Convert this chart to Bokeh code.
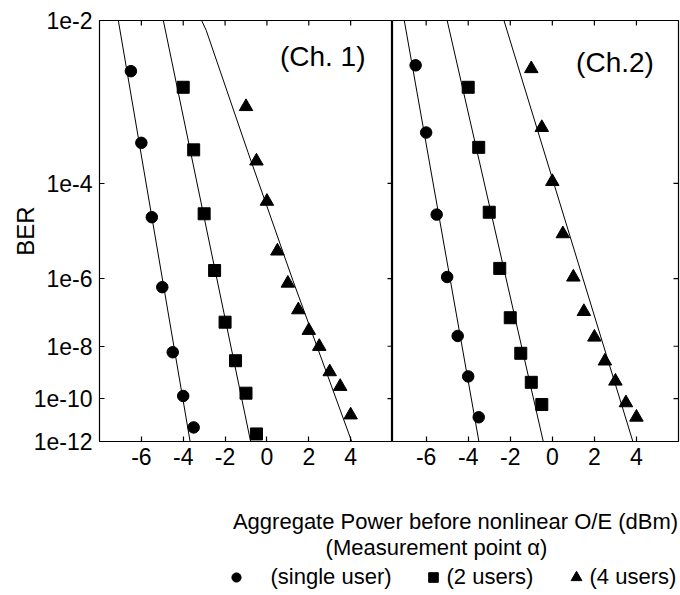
import numpy as np
from bokeh.plotting import figure
from bokeh.models import Range1d, FixedTicker, Label
from bokeh.layouts import column, row
from bokeh.embed import file_html
from bokeh.resources import INLINE
from bokeh.core.properties import value

FONT = "Liberation Sans"

# Aggregate optical power before the nonlinear O/E (dBm)
power_1user = [-6.5, -6.0, -5.5, -5.0, -4.5, -4.0, -3.5]
power_2users = [-4.0, -3.5, -3.0, -2.5, -2.0, -1.5, -1.0, -0.5]
power_4users = [-1.0, -0.5, 0.0, 0.5, 1.0, 1.5, 2.0, 2.5, 3.0, 3.5, 4.0]

# Measured BER, channel 1
ch1_ber_1user = [3.3e-3, 4.3e-4, 2.4e-5, 6.0e-7, 6.2e-9, 1.3e-10, 5.0e-12]
ch1_ber_2users = [2.2e-3, 3.4e-4, 2.8e-5, 1.6e-6, 6.0e-8, 3.1e-9, 1.7e-10, 2.4e-12]
ch1_ber_4users = [1.3e-3, 2.3e-4, 4.8e-5, 4.6e-6, 7.6e-7, 1.4e-7, 3.3e-8,
                  9.8e-9, 1.2e-9, 3.2e-10, 1.9e-11]

# Measured BER, channel 2
ch2_ber_1user = [3.8e-3, 6.0e-4, 2.7e-5, 1.1e-6, 2.2e-8, 8.0e-10, 1.5e-11]
ch2_ber_2users = [2.2e-3, 3.7e-4, 3.0e-5, 1.8e-6, 8.2e-8, 5.7e-9, 4.7e-10, 5.6e-11]
ch2_ber_4users = [3.5e-3, 7.0e-4, 1.07e-4, 1.1e-5, 1.09e-6, 1.25e-7, 2.0e-8,
                  3.0e-9, 5.2e-10, 6.6e-11, 1.5e-11]

# Fitted curves: (power, BER)
ch1_fit_1user_x = [-7.1, -3.67]
ch1_fit_1user_ber = [1e-2, 1e-12]
ch1_fit_2users_x = [-4.95, -0.78]
ch1_fit_2users_ber = [1e-2, 1e-12]
ch1_fit_4users_x = [-3.12, -2.9, -0.9, 1.24, 4.05]
ch1_fit_4users_ber = [1e-2, 8.2e-3, 3.1e-4, 9.0e-7, 1e-12]

ch2_fit_1user_x = [-7.04, -3.49]
ch2_fit_1user_ber = [1e-2, 1e-12]
ch2_fit_2users_x = [-5.0, -0.43]
ch2_fit_2users_ber = [1e-2, 1e-12]
ch2_fit_4users_x = [-2.3, 3.83]
ch2_fit_4users_ber = [1e-2, 1e-12]

# Axis ticks and labels
x_ticks = [-6, -4, -2, 0, 2, 4]
x_tick_labels = ["-6", "-4", "-2", "0", "2", "4"]
ber_exponents = [2, 4, 6, 8, 10, 12]
ber_tick_labels = ["1e-2", "1e-4", "1e-6", "1e-8", "1e-10", "1e-12"]

channel_names = ["(Ch. 1)", "(Ch.2)"]
x_title = "Aggregate Power before nonlinear O/E (dBm)"
x_subtitle = "(Measurement point \u03b1)"
legend_labels = ["(single user)", "(2 users)", "(4 users)"]


def ber_scale(ber):
    """BER paper scale: log10(-log10(BER))."""
    return np.log10(-np.log10(np.asarray(ber, dtype=float)))


y_ticks = [float(v) for v in np.log10(ber_exponents)]
Y_BOTTOM = float(np.log10(12))
Y_TOP = float(np.log10(2))


def style_axis(ax, ticks, labels):
    ax.ticker = FixedTicker(ticks=ticks)
    ax.axis_line_color = None
    ax.major_tick_line_color = "black"
    ax.major_tick_line_width = 1.2
    ax.major_tick_in = 5
    ax.major_tick_out = 0
    ax.minor_tick_line_color = None
    ax.major_label_overrides = {t: l for t, l in zip(ticks, labels)}
    ax.major_label_text_font = FONT
    ax.major_label_text_font_size = "23px"
    ax.major_label_text_color = "black"


def make_panel(x_range, width, border_left, border_right, is_left):
    p = figure(width=width, height=480, x_range=Range1d(*x_range),
               y_range=Range1d(Y_BOTTOM, Y_TOP),
               output_backend="svg", toolbar_location=None,
               y_axis_location="left" if is_left else None,
               min_border_left=border_left, min_border_right=border_right,
               min_border_top=20, min_border_bottom=39)
    p.grid.visible = False
    p.outline_line_color = "black"
    p.outline_line_width = 1.2
    p.background_fill_color = "white"
    p.border_fill_color = "white"

    style_axis(p.xaxis[0], x_ticks, x_tick_labels)
    p.xaxis[0].major_label_standoff = 6

    if is_left:
        ya = p.yaxis[0]
        style_axis(ya, y_ticks, ber_tick_labels)
        ya.major_label_standoff = 7
        ya.axis_label = "BER"
        ya.axis_label_text_font = FONT
        ya.axis_label_text_font_size = "24px"
        ya.axis_label_text_font_style = "normal"
        ya.axis_label_text_color = "black"
        ya.axis_label_standoff = -8

    # inward tick marks along the top and right edges of the frame
    x_end = x_range[1]
    p.scatter(x_ticks, [Y_TOP] * len(x_ticks), marker="dash", angle=np.pi / 2,
              size=10, line_color="black", line_width=1.2)
    p.scatter([x_end] * len(y_ticks), y_ticks, marker="dash",
              size=10, line_color="black", line_width=1.2)
    return p


left = make_panel((-8.0, 6.0), 392, 99, 0, True)
right = make_panel((-7.6, 6.0), 288, 0, 2, False)

panels = [
    (left, [(power_1user, ch1_ber_1user), (power_2users, ch1_ber_2users), (power_4users, ch1_ber_4users)],
     [(ch1_fit_1user_x, ch1_fit_1user_ber), (ch1_fit_2users_x, ch1_fit_2users_ber),
      (ch1_fit_4users_x, ch1_fit_4users_ber)]),
    (right, [(power_1user, ch2_ber_1user), (power_2users, ch2_ber_2users), (power_4users, ch2_ber_4users)],
     [(ch2_fit_1user_x, ch2_fit_1user_ber), (ch2_fit_2users_x, ch2_fit_2users_ber),
      (ch2_fit_4users_x, ch2_fit_4users_ber)]),
]

markers = [("circle", 11.5), ("square", 12), ("triangle", 13.5)]

for p, series, fits in panels:
    for fx, fb in fits:
        p.line(fx, ber_scale(fb), line_color="black", line_width=1)
    for (px, pb), (mk, sz) in zip(series, markers):
        p.scatter(px, ber_scale(pb), marker=mk, size=sz, fill_color="black", line_color="black")

# Channel tags inside each panel
left.add_layout(Label(x=0.62, y=float(ber_scale(4.7e-3)), text=channel_names[0],
                      text_font=FONT, text_font_size="28px", text_baseline="middle",
                      text_align="left", text_color="black"))
right.add_layout(Label(x=1.13, y=float(ber_scale(4.1e-3)), text=channel_names[1],
                       text_font=FONT, text_font_size="28px", text_baseline="middle",
                       text_align="left", text_color="black"))

# Shared axis title and the marker key underneath both panels
foot = figure(width=680, height=115, x_range=Range1d(0, 680), y_range=Range1d(115, 0),
              output_backend="svg", toolbar_location=None,
              min_border_left=0, min_border_right=0, min_border_top=0, min_border_bottom=0)
foot.axis.visible = False
foot.grid.visible = False
foot.outline_line_color = None

foot.text(x=[455], y=[41], text=[x_title], text_font=value(FONT), text_font_size="22px",
          text_align="center", text_baseline="middle", text_color="black")
foot.text(x=[436], y=[67], text=[x_subtitle], text_font=value(FONT), text_font_size="22px",
          text_align="center", text_baseline="middle", text_color="black")

key_x = [236, 433, 576]
key_text_x = [270, 446, 589]
key_y = 96
for (mk, sz), kx in zip(markers, key_x):
    foot.scatter([kx], [key_y + 1], marker=mk, size=sz * 0.8, fill_color="black", line_color="black")
foot.text(x=key_text_x, y=[key_y] * 3, text=legend_labels, text_font=value(FONT),
          text_font_size="22px", text_align="left", text_baseline="middle", text_color="black")

layout = column(row(left, right), foot)
open("out.html", "w").write(file_html(layout, INLINE))
